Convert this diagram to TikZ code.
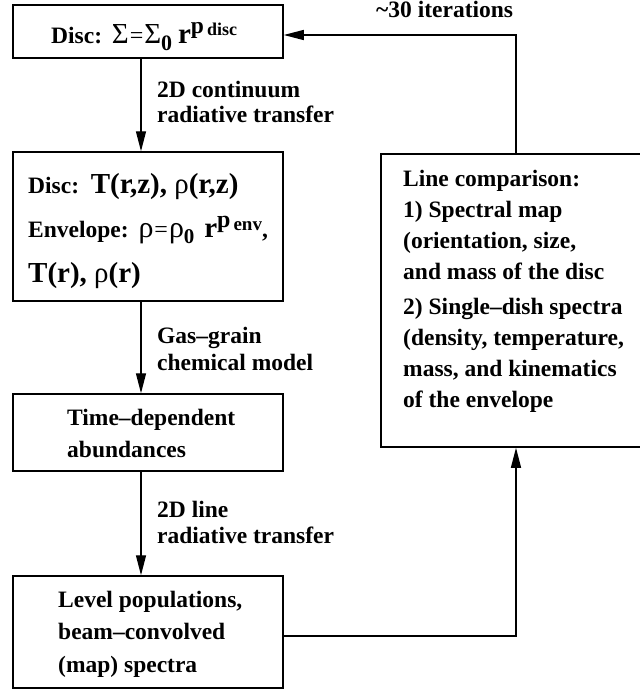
\documentclass[tikz,border=0pt]{standalone}
\usepackage{fontspec}
\setmainfont{Liberation Serif}
\usetikzlibrary{arrows.meta,calc}
\newcommand{\fsz}[1]{\fontsize{#1}{#1}\selectfont}
\begin{document}
\begin{tikzpicture}[x=1pt,y=-1pt,
  box/.style={draw, line width=1.5pt, minimum width=270pt, inner sep=0pt},
  txt/.style={anchor=north west, inner sep=0pt, align=left, font=\bfseries\fontsize{23.5}{32}\selectfont},
  lbl/.style={anchor=north west, inner sep=0pt, align=left, font=\bfseries\fontsize{23.5}{26}\selectfont},
  arr/.style={line width=1.3pt, -{Triangle[length=20pt,width=10pt]}}]
\clip (0,0) rectangle (640,691);
% boxes
\node[box, minimum height=53pt]  (b1) at (148,31.5) {};
\node[box, minimum height=149pt] (b2) at (148,226.5) {};
\node[box, minimum height=77pt]  (b3) at (148,432.5) {};
\node[box, minimum height=112pt] (b4) at (148,632) {};
\node[box, minimum height=293pt] (b5) at (516,300.5) {};
% box texts
\node[txt] (t1) at (51,20.6) {\strut Disc:\,\ {\mdseries\fsz{29}Σ}\kern1pt{\mdseries\fsz{24}=}\kern1pt{\mdseries\fsz{29}Σ}\raisebox{-7pt}{\fsz{22}0}\ {\fsz{29}r}\raisebox{10pt}{\fsz{23.5}p}\kern3pt\raisebox{8pt}{\fsz{18}disc}};
\node[txt, font=\bfseries\fontsize{23.5}{44.5}\selectfont] (t2) at (28,161.85)
  {\strut Disc:\ \ {\fsz{29}T(r,z), {\mdseries ρ}(r,z)}\\
   \strut Envelope:\ \,{\mdseries\fsz{30}ρ}\kern1pt{\mdseries\fsz{24}=}\kern1pt{\mdseries\fsz{30}ρ}\raisebox{-6pt}{\fsz{21}0}\ \,{\fsz{29}r}\raisebox{10pt}{\fsz{24}p}\kern3pt\raisebox{7pt}{\fsz{19}env},\\
   \strut{\fsz{29}T(r), {\mdseries ρ}(r)}};
\node[txt] (t3) at (67,402.6) {\strut Time–dependent\\\strut abundances};
\node[txt, font=\bfseries\fontsize{23.5}{32.5}\selectfont] (t4) at (58,584.25)
  {\strut Level populations,\\\strut beam–convolved\\\strut (map) spectra};
\node[txt, font=\bfseries\fontsize{23.5}{31}\selectfont] (t5) at (403,164.3)
  {\strut Line comparison:\\
   \strut 1) Spectral map\\
   \strut (orientation, size,\\
   \strut and mass of the disc\\[4pt]
   \strut 2) Single–dish spectra\\
   \strut (density, temperature,\\
   \strut mass, and kinematics\\
   \strut of the envelope};
% connector labels
\node[lbl, font=\bfseries\fontsize{23.5}{25}\selectfont] (l1) at (157,79.5) {\strut 2D continuum\\\strut radiative transfer};
\node[lbl, font=\bfseries\fontsize{23.5}{27}\selectfont] (l2) at (157,324.1) {\strut Gas–grain\\\strut chemical model};
\node[lbl] (l3) at (157,498.8) {\strut 2D line\\\strut radiative transfer};
\node[lbl] (l4) at (376,-1.2) {\strut \textasciitilde30 iterations};
% connectors
\draw[arr] ([xshift=-7pt]b1.south) -- ([xshift=-7pt]b2.north);
\draw[arr] ([xshift=-7pt]b2.south) -- ([xshift=-7pt]b3.north);
\draw[arr] ([xshift=-7pt]b3.south) -- ([xshift=-7pt]b4.north);
\draw[arr] ([yshift=-4pt]b4.east) -| (b5.south);
\draw[arr] (b5.north) |- ([yshift=-3.5pt]b1.east);
\end{tikzpicture}
\end{document}
